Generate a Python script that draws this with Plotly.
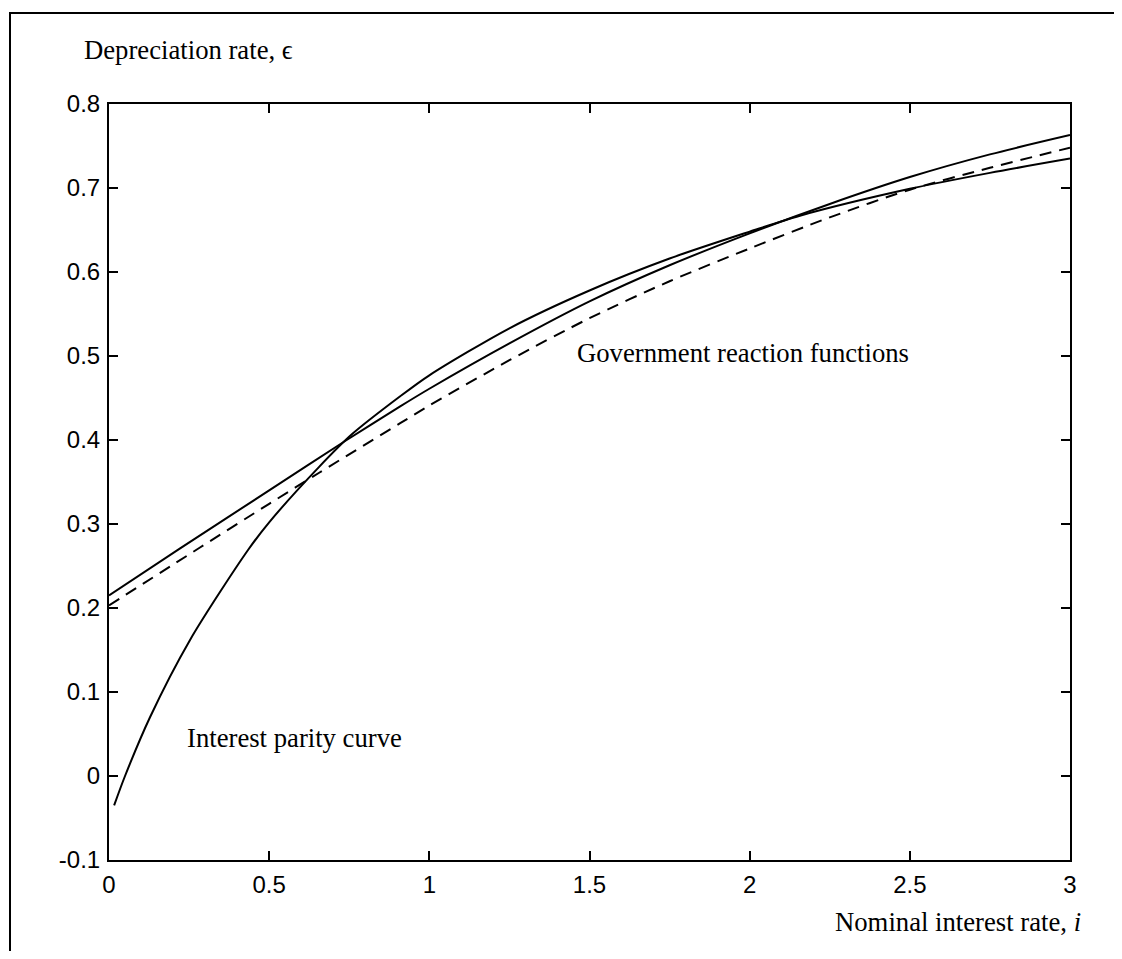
import plotly.graph_objects as go

# Interest parity curve
parity_x = [0.016, 0.05, 0.128, 0.253, 0.434, 0.5, 0.656, 0.759, 0.909, 1.0, 1.25, 1.5, 1.75, 2.0, 2.157, 2.5, 2.75, 3.0]
parity_y = [-0.035, 0.0, 0.07, 0.162, 0.269, 0.302, 0.368, 0.407, 0.452, 0.477, 0.533, 0.578, 0.616, 0.648, 0.667, 0.699, 0.718, 0.735]

# Government reaction function (solid)
gov_x = [0.0, 0.222, 0.5, 0.742, 0.909, 1.0, 1.25, 1.5, 1.75, 2.0, 2.25, 2.5, 2.75, 3.0]
gov_y = [0.215, 0.271, 0.34, 0.40, 0.44, 0.461, 0.515, 0.565, 0.608, 0.646, 0.681, 0.713, 0.740, 0.763]

# Government reaction function (dashed)
dash_x = [0.0, 0.284, 0.5, 0.656, 0.909, 1.0, 1.25, 1.5, 1.75, 2.0, 2.25, 2.5, 2.75, 3.0]
dash_y = [0.203, 0.272, 0.324, 0.361, 0.42, 0.441, 0.495, 0.545, 0.589, 0.628, 0.665, 0.698, 0.724, 0.748]

x_ticks = [0, 0.5, 1, 1.5, 2, 2.5, 3]
x_tick_labels = ["0", "0.5", "1", "1.5", "2", "2.5", "3"]
y_ticks = [-0.1, 0, 0.1, 0.2, 0.3, 0.4, 0.5, 0.6, 0.7, 0.8]
y_tick_labels = ["-0.1", "0", "0.1", "0.2", "0.3", "0.4", "0.5", "0.6", "0.7", "0.8"]

fig = go.Figure()
fig.add_trace(go.Scatter(x=parity_x, y=parity_y, mode="lines",
                         line=dict(color="black", width=2, shape="spline", smoothing=0.8), showlegend=False))
fig.add_trace(go.Scatter(x=gov_x, y=gov_y, mode="lines",
                         line=dict(color="black", width=2, shape="spline", smoothing=0.8), showlegend=False))
fig.add_trace(go.Scatter(x=dash_x, y=dash_y, mode="lines",
                         line=dict(color="black", width=2, dash="12px,8px", shape="spline", smoothing=0.8),
                         showlegend=False))

OFF = 8  # default page body margin
W, H = 1122 - 2 * OFF, 959 - 2 * OFF
L, R, T, B = 109 - OFF, 1070 - OFF, 104 - OFF, 860 - OFF
pw, ph = R - L, B - T

def px(xp):
    return (xp - OFF - L) / pw

def py(yp):
    return (B - (yp - OFF)) / ph

tickfont = dict(family="Liberation Sans, Arial, sans-serif", size=24, color="black")
serif = "Liberation Serif, Times New Roman, serif"
textfont = dict(family=serif, size=26.7, color="black")

fig.update_layout(
    width=W, height=H,
    margin=dict(l=L, r=W - R, t=T, b=H - B),
    paper_bgcolor="white", plot_bgcolor="white",
    xaxis=dict(range=[0, 3], tickvals=x_ticks, ticktext=x_tick_labels, ticks="inside", ticklen=9,
               tickwidth=2, tickcolor="black", showline=True, linecolor="black", linewidth=2,
               mirror="ticks", showgrid=False, zeroline=False, tickfont=tickfont, ticklabelstandoff=2),
    yaxis=dict(range=[-0.1, 0.8], tickvals=y_ticks, ticktext=y_tick_labels, ticks="inside", ticklen=9,
               tickwidth=2, tickcolor="black", showline=True, linecolor="black", linewidth=2,
               mirror="ticks", showgrid=False, zeroline=False, tickfont=tickfont, ticklabelstandoff=2),
    annotations=[
        dict(text="Depreciation rate, ϵ", xref="paper", yref="paper", x=px(82), y=py(50),
             xanchor="left", yanchor="middle", showarrow=False, font=textfont),
        dict(text="Nominal interest rate, <i>i</i>", xref="paper", yref="paper", x=px(1083), y=py(922),
             xanchor="right", yanchor="middle", showarrow=False, font=textfont),
        dict(text="Government reaction functions", xref="x", yref="y", x=1.455, y=0.504,
             xanchor="left", yanchor="middle", showarrow=False, font=textfont),
        dict(text="Interest parity curve", xref="x", yref="y", x=0.237, y=0.045,
             xanchor="left", yanchor="middle", showarrow=False, font=textfont),
    ],
    shapes=[
        dict(type="rect", xref="paper", yref="paper", x0=px(10), x1=px(1160), y0=py(1000), y1=py(13),
             line=dict(color="black", width=2), fillcolor="rgba(0,0,0,0)", layer="above"),
    ],
)

fig.write_html("out.html")
